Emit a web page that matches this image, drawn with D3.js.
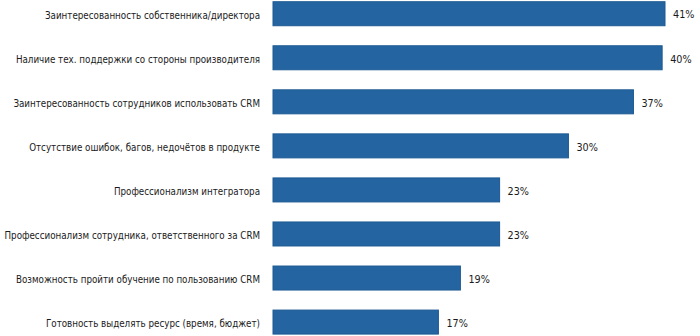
<!DOCTYPE html>
<html>
<head>
<meta charset="utf-8">
<script src="https://cdn.jsdelivr.net/npm/d3@7"></script>
<style>
  html, body { margin: 0; padding: 0; background: #fff; }
  svg { display: block; }
  text { font-family: "Liberation Sans Narrow", "DejaVu Sans Condensed", Lato, sans-serif; fill: #1a1a1a; }
</style>
</head>
<body>
<svg id="chart" width="700" height="336"></svg>
<script>
const categories = [
  "Заинтересованность собственника/директора",
  "Наличие тех. поддержки со стороны производителя",
  "Заинтересованность сотрудников использовать CRM",
  "Отсутствие ошибок, багов, недочётов в продукте",
  "Профессионализм интегратора",
  "Профессионализм сотрудника, ответственного за CRM",
  "Возможность пройти обучение по пользованию CRM",
  "Готовность выделять ресурс (время, бюджет)"
];
const values = [41.0, 40.7, 37.7, 30.9, 23.7, 23.7, 19.6, 17.3];
const valueLabels = ["41%", "40%", "37%", "30%", "23%", "23%", "19%", "17%"];

const svg = d3.select("#chart");
const x = d3.scaleLinear().domain([0, 41]).range([273, 665]);
const y = d3.scaleBand().domain(categories).range([-8.3, 344.1])
  .paddingInner(0.455).paddingOuter(0.2275);

svg.selectAll("rect.bar").data(values).join("rect")
  .attr("class", "bar")
  .attr("x", x(0))
  .attr("y", (d, i) => y(categories[i]))
  .attr("width", d => x(d) - x(0))
  .attr("height", y.bandwidth())
  .attr("fill", "#2465a1")
  .attr("stroke", "#1d5a93")
  .attr("stroke-width", 1);

const cats = svg.selectAll("text.cat").data(categories).join("text")
  .attr("class", "cat")
  .attr("x", 260)
  .attr("y", d => y(d) + y.bandwidth() / 2 + 2)
  .attr("dy", "0.35em")
  .attr("text-anchor", "end")
  .attr("font-size", 12)
  .text(d => d);
// fit font so the widest label spans ~256px like the reference
let maxW = 0;
cats.each(function() { maxW = Math.max(maxW, this.getComputedTextLength()); });
const fs = 12 * 256 / maxW;
cats.attr("font-size", fs);

svg.selectAll("text.val").data(values).join("text")
  .attr("class", "val")
  .attr("x", d => x(d) + 8)
  .attr("y", (d, i) => y(categories[i]) + y.bandwidth() / 2 + 1)
  .attr("dy", "0.35em")
  .attr("font-size", fs * 1.1)
  .text((d, i) => valueLabels[i]);
</script>
</body>
</html>
